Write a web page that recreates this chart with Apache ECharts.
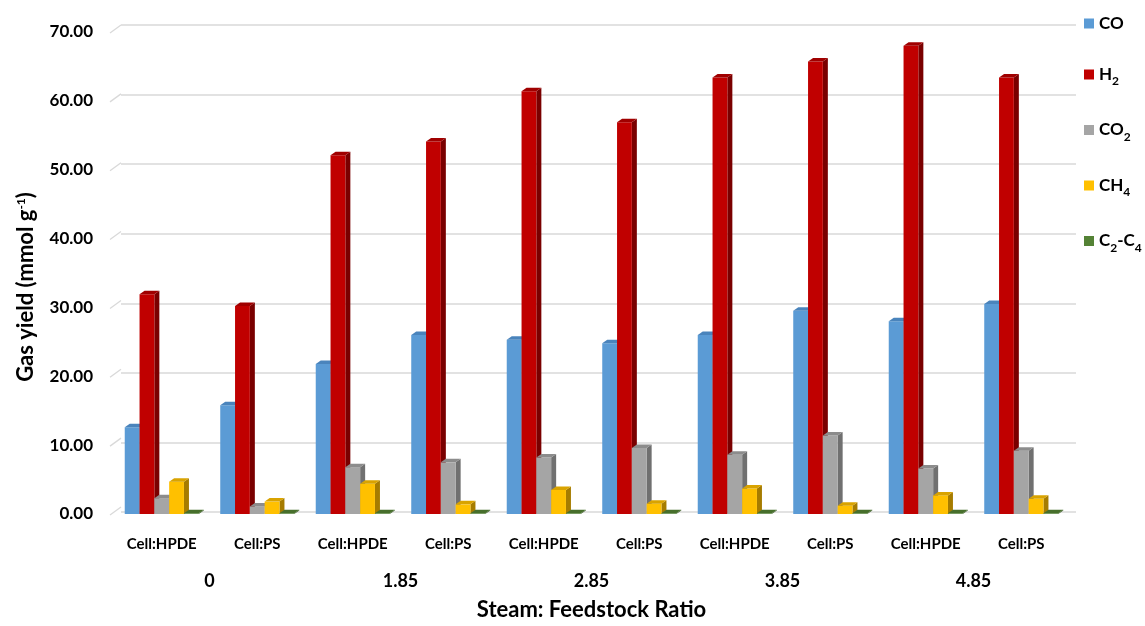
<!DOCTYPE html>
<html>
<head>
<meta charset="utf-8">
<script src="https://cdn.jsdelivr.net/npm/echarts@6/dist/echarts.min.js"></script>
<style>
  html, body { margin: 0; padding: 0; background: #fff; }
  #chart { width: 1145px; height: 626px; }
</style>
</head>
<body>
<div id="chart"></div>
<script>
// Gas yields (mmol g-1) per feedstock and steam:feedstock ratio
const categories = ['Cell:HPDE', 'Cell:PS', 'Cell:HPDE', 'Cell:PS', 'Cell:HPDE', 'Cell:PS', 'Cell:HPDE', 'Cell:PS', 'Cell:HPDE', 'Cell:PS'];
const ratios = ['0', '1.85', '2.85', '3.85', '4.85'];
const yTicks = [0, 10, 20, 30, 40, 50, 60, 70];

const coYield   = [12.6, 15.8, 21.8, 26.0, 25.3, 24.8, 26.0, 29.5, 28.0, 30.5];
const h2Yield   = [31.9, 30.2, 52.1, 54.1, 61.4, 56.9, 63.4, 65.7, 68.0, 63.4];
const co2Yield  = [2.3, 1.1, 6.8, 7.5, 8.2, 9.6, 8.6, 11.4, 6.6, 9.2];
const ch4Yield  = [4.7, 1.8, 4.4, 1.4, 3.5, 1.5, 3.7, 1.2, 2.7, 2.2];
const c2c4Yield = [0.1, 0.1, 0.1, 0.1, 0.1, 0.1, 0.1, 0.1, 0.1, 0.1];

const FONT = 'Lato, "Open Sans", sans-serif';

// name, legend label (rich), values, front / top / side colours
const seriesDefs = [
  { name: 'CO',    label: '{n|CO}',                data: coYield,   front: '#5B9BD5', top: '#4A84BC', side: '#3F6F9E' },
  { name: 'H2',    label: '{n|H}{s|2}',            data: h2Yield,   front: '#C00000', top: '#A00000', side: '#7A0000' },
  { name: 'CO2',   label: '{n|CO}{s|2}',           data: co2Yield,  front: '#A5A5A5', top: '#8C8C8C', side: '#707070' },
  { name: 'CH4',   label: '{n|CH}{s|4}',           data: ch4Yield,  front: '#FFC000', top: '#D9A300', side: '#A67C00' },
  { name: 'C2-C4', label: '{n|C}{s|2}{n|-C}{s|4}', data: c2c4Yield, front: '#548235', top: '#476F2C', side: '#3A5B24' }
];

const BAR_FRAC = 0.155;         // bar width as share of a category band
const DX = 5, DY = 3.5;         // bar depth projection
const WALL_DX = 7, WALL_DY = 7; // back wall offset

function barRenderer(k, def) {
  return function (params, api) {
    const x = api.value(0), v = api.value(1);
    const t = api.coord([x, v]);
    const b = api.coord([x, 0]);
    const band = api.size([1, 0])[0];
    const w = band * BAR_FRAC;
    const l = t[0] + (k - 2.5) * w;
    const r = l + w;
    const yt = t[1], yb = b[1];
    return {
      type: 'group',
      children: [
        { type: 'polygon', shape: { points: [[r, yt], [r + DX, yt - DY], [r + DX, yb - DY], [r, yb]] },
          style: { fill: def.side } },
        { type: 'rect', shape: { x: l, y: yt, width: w, height: Math.max(yb - yt, 0) },
          style: { fill: def.front } },
        { type: 'polygon', shape: { points: [[l, yt], [l + DX, yt - DY], [r + DX, yt - DY], [r, yt]] },
          style: { fill: def.top } }
      ]
    };
  };
}

const barSeries = seriesDefs.map((def, k) => ({
  name: def.name,
  type: 'custom',
  xAxisIndex: 1,
  yAxisIndex: 1,
  z: 3 + k,
  itemStyle: { color: def.front },
  renderItem: barRenderer(k, def),
  encode: { x: 0, y: 1 },
  data: def.data.map((v, i) => [i, v])
}));

// slanted ticks joining the value labels to the back wall
const wallTicks = {
  type: 'custom',
  xAxisIndex: 1,
  yAxisIndex: 1,
  silent: true,
  z: 1,
  renderItem: function (params, api) {
    const p = api.coord([0, api.value(0)]);
    const x0 = params.coordSys.x - 4;
    return {
      type: 'line',
      shape: { x1: x0, y1: p[1] + 1, x2: params.coordSys.x + WALL_DX, y2: p[1] - WALL_DY },
      style: { stroke: '#D9D9D9', lineWidth: 1.3 }
    };
  },
  encode: { y: 0 },
  data: yTicks.map(v => [v])
};

const legendNames = {};
seriesDefs.forEach(d => { legendNames[d.name] = d.label; });

const FRONT = { left: 114, right: 76, top: 32, bottom: 107 };

const option = {
  backgroundColor: '#ffffff',
  animation: false,
  grid: [
    { left: FRONT.left + WALL_DX, right: FRONT.right - WALL_DX, top: FRONT.top - WALL_DY, bottom: FRONT.bottom + WALL_DY },
    { left: FRONT.left, right: FRONT.right, top: FRONT.top, bottom: FRONT.bottom }
  ],
  legend: {
    orient: 'vertical',
    left: 1079,
    top: 10,
    itemWidth: 10,
    itemHeight: 10,
    itemGap: 34,
    itemStyle: { borderWidth: 0 },
    icon: 'rect',
    data: seriesDefs.map(d => d.name),
    formatter: name => legendNames[name],
    textStyle: {
      rich: {
        n: { fontFamily: FONT, fontWeight: 'bold', fontSize: 17, color: '#000', lineHeight: 20, verticalAlign: 'middle' },
        s: { fontFamily: FONT, fontWeight: 'bold', fontSize: 12, color: '#000', lineHeight: 12, verticalAlign: 'bottom', padding: [0, 0, -3, 0] }
      }
    }
  },
  xAxis: [
    { gridIndex: 0, type: 'category', data: categories, show: false },
    {
      gridIndex: 1, type: 'category', data: categories,
      axisLine: { show: false }, axisTick: { show: false },
      axisLabel: { margin: 23, fontFamily: FONT, fontWeight: 'bold', fontSize: 15, color: '#000', interval: 0 }
    },
    {
      gridIndex: 1, type: 'category', data: ratios, position: 'bottom',
      axisLine: { show: false }, axisTick: { show: false },
      axisLabel: { margin: 58, fontFamily: FONT, fontWeight: 'bold', fontSize: 18, color: '#000', interval: 0 },
      name: 'Steam: Feedstock Ratio',
      nameLocation: 'middle',
      nameGap: 85,
      nameTextStyle: { fontFamily: FONT, fontWeight: 'bold', fontSize: 22, color: '#000' }
    }
  ],
  yAxis: [
    {
      gridIndex: 0, type: 'value', min: 0, max: 70, interval: 10,
      axisLine: { show: false }, axisTick: { show: false }, axisLabel: { show: false },
      splitLine: { show: true, lineStyle: { color: '#D9D9D9', width: 1.5 } }
    },
    {
      gridIndex: 1, type: 'value', min: 0, max: 70, interval: 10,
      axisLine: { show: false }, axisTick: { show: false },
      splitLine: { show: false },
      axisLabel: {
        margin: 21, fontFamily: FONT, fontWeight: 'bold', fontSize: 17, color: '#000',
        padding: [5, 0, 0, 0],
        formatter: v => v.toFixed(2)
      },
      name: '{a|Gas yield (mmol g}{s|-1}{a|)}',
      nameLocation: 'middle',
      nameRotate: 90,
      nameGap: 76,
      nameTextStyle: {
        padding: [0, 28, 0, 0],
        rich: {
          a: { fontFamily: FONT, fontWeight: 'bold', fontSize: 22, color: '#000', lineHeight: 24, verticalAlign: 'middle' },
          s: { fontFamily: FONT, fontWeight: 'bold', fontSize: 12, color: '#000', lineHeight: 12, verticalAlign: 'top', padding: [1, 0, 0, 0] }
        }
      }
    }
  ],
  series: [wallTicks].concat(barSeries)
};

const chart = echarts.init(document.getElementById('chart'), null, { renderer: 'canvas' });
chart.setOption(option);
</script>
</body>
</html>
